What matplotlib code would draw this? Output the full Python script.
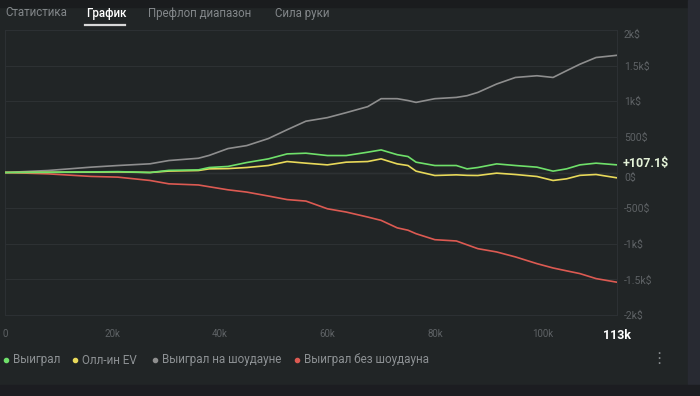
import matplotlib
matplotlib.use("Agg")
import matplotlib.pyplot as plt
from matplotlib.lines import Line2D

plt.rcParams['font.family'] = ['Roboto', 'DejaVu Sans']

# ---- data (hands in thousands, values in $) ----
hands_k = [0, 8, 16, 21, 27, 30.5, 36, 38, 41.5, 45, 49, 52.5, 56, 60, 63.5, 67.5, 70,
           73, 75, 76.5, 80, 84, 86, 88, 91.5, 95, 99, 102, 104.5, 107, 110, 113.9]
won = [0, 3, 8, 12, 0, 30, 37, 70, 85, 140, 191, 261, 271, 238, 238, 285, 317,
       250, 224, 145, 98, 98, 51, 70, 121, 98, 75, 19, 51, 107, 131, 107.1]
allin_ev = [0, 3, 5, 8, 0, 20, 28, 51, 55, 70, 98, 154, 131, 107, 145, 154, 191,
            121, 98, 19, -42, -33, -40, -42, -9, -28, -56, -112, -89, -40, -28, -75]
showdown = [0, 28, 75, 98, 122, 168, 200, 240, 336, 378, 476, 600, 720, 770, 840, 924, 1036,
            1036, 1010, 984, 1036, 1054, 1078, 1124, 1242, 1334, 1358, 1334, 1428, 1520, 1614, 1645]
non_showdown = [0, -19, -55, -65, -112, -159, -175, -200, -243, -275, -330, -380, -401, -509, -555, -625, -672,
                -777, -810, -859, -943, -961, -1015, -1069, -1115, -1185, -1279, -1340, -1380, -1419, -1489, -1540]

series_names = ["Выиграл", "Олл-ин EV", "Выиграл на шоудауне", "Выиграл без шоудауна"]
series_colors = ["#6fe06a", "#e8d95a", "#8e8e8e", "#dc5a52"]
x_ticks_k = [0, 20, 40, 60, 80, 100, 113.9]
x_tick_labels = ["0", "20k", "40k", "60k", "80k", "100k", "113k"]
y_ticks = [-2000, -1500, -1000, -500, 0, 500, 1000, 1500, 2000]
y_tick_labels = ["-2k$", "-1.5k$", "-1k$", "-500$", "0$", "500$", "1k$", "1.5k$", "2k$"]
tabs = ["Статистика", "График", "Префлоп диапазон", "Сила руки"]
final_label = "+107.1$"

W, H = 700, 396
fig = plt.figure(figsize=(7, 3.96), dpi=100)
fig.patch.set_facecolor("#212526")

def px(x, y):
    return x / W, 1 - y / H

# background strips
fig.patches.append(plt.Rectangle((0, 1 - 7 / H), 1, 7 / H, transform=fig.transFigure,
                                 color="#1a1c1e", zorder=0))
fig.patches.append(plt.Rectangle((688 / W, 0), 12 / W, 1, transform=fig.transFigure,
                                 color="#282a32", zorder=0))
fig.patches.append(plt.Rectangle((0, 0), 1, 11 / H, transform=fig.transFigure,
                                 color="#1c1d21", zorder=0))

ax = fig.add_axes([5 / W, 1 - 315 / H, 612 / W, 285 / H])
ax.set_facecolor("#212526")
for s in ax.spines.values():
    s.set_color("#2c3033")
    s.set_linewidth(0.8)

order = [2, 3, 1, 0]
all_series = [won, allin_ev, showdown, non_showdown]
for i in order:
    ax.plot(hands_k, all_series[i], color=series_colors[i], lw=1.2, zorder=3)

ax.set_xlim(0, 113.9)
ax.set_ylim(-2000, 2000)
ax.set_yticks(y_ticks)
ax.set_yticklabels(y_tick_labels)
ax.yaxis.tick_right()
ax.grid(axis="y", color="#2d3133", lw=0.8, zorder=0)
ax.axhline(0, color="#45494b", lw=0.9, zorder=1)
ax.tick_params(axis="y", length=0, pad=5, labelsize=7.5, labelcolor="#5e6265")
ax.set_xticks(x_ticks_k)
ax.set_xticklabels(x_tick_labels)
ax.tick_params(axis="x", length=0, pad=10, labelsize=7, labelcolor="#5e6265")
xl = ax.get_xticklabels()
xl[-1].set_color("white")
xl[-1].set_fontweight("bold")
xl[-1].set_fontsize(9)
yl = ax.get_yticklabels()
yl[-1].set_va("top")
yl[4].set_va("top")

ax.annotate(final_label, xy=(1, won[-1]), xycoords=("axes fraction", "data"),
            xytext=(4, 1), textcoords="offset points", va="center", ha="left",
            fontsize=9, fontweight="bold", color="#e4f2d8")

# tabs
tab_x = [5, 86, 148, 275]
for i, (t, x) in enumerate(zip(tabs, tab_x)):
    fig.text(*px(x, 13), t, fontsize=8.3, va="center", ha="left",
             color="white" if i == 1 else "#83878a",
             fontweight="medium" if i == 1 else "normal")
fig.add_artist(Line2D([85 / W, 125 / W], [1 - 25 / H] * 2, color="#d8d8d8", lw=1.6))

# legend (manual placement)
leg_dot_x = [6, 75, 155, 297]
for name, c, x in zip(series_names, series_colors, leg_dot_x):
    fig.add_artist(Line2D([x / W], [1 - 360 / H], marker="o", ms=3, ls="none", color=c))
    fig.text(*px(x + 7, 360), name, fontsize=8.4, color="#8d9194", va="center", ha="left")

fig.text(*px(659, 358), "⋮", fontsize=11, color="#85898c", ha="center", va="center",
         family="DejaVu Sans")

fig.savefig("out.png", dpi=100, facecolor=fig.get_facecolor())
